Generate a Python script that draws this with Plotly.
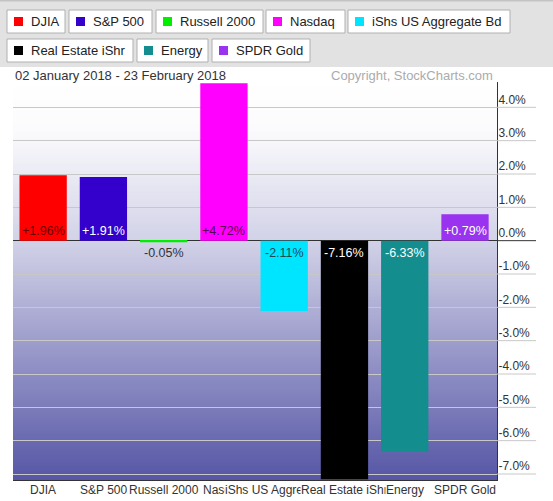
import plotly.graph_objects as go

# Данные: изменение в % за период
categories = ['DJIA', 'S&P 500', 'Russell 2000', 'Nasdaq', 'iShs US Aggregate Bd',
              'Real Estate iShr', 'Energy', 'SPDR Gold']
changes = [1.96, 1.91, -0.05, 4.72, -2.11, -7.16, -6.33, 0.79]
y_ticks = [-7, -6, -5, -4, -3, -2, -1, 0, 1, 2, 3, 4]

bar_colors = ['#ff0000', '#3300cc', '#00ee00', '#ff00ff', '#00e5ff',
              '#000000', '#138d8d', '#9933f0']
label_colors = ['#6a0000', '#ffffff', '#333333', '#5a005a', '#1d4b56',
                '#ffffff', '#ffffff', '#ffffff']

W, H = 553, 501
L, R, T, B = 13, 56, 82, 21
PW, PH = W - L - R, H - T - B


def px(x):
    return (x - L) / PW


def py(y):
    return (H - B - y) / PH


def mix(c1, c2, t):
    return tuple(round(a + (b - a) * t) for a, b in zip(c1, c2))


fig = go.Figure()
fig.add_trace(go.Bar(
    x=categories,
    y=changes,
    marker=dict(color=bar_colors, line=dict(width=0)),
    hoverinfo='x+y',
    showlegend=False,
))

shapes = []

# Градиентный фон области графика
stops = [(82, (255, 255, 255)), (130, (251, 251, 253)),
         (241, (210, 210, 232)), (480, (86, 86, 166))]
n_strips = 200
for i in range(n_strips):
    y0 = T + PH * i / n_strips
    y1 = T + PH * (i + 1) / n_strips
    yc = (y0 + y1) / 2
    for (a, ca), (b, cb) in zip(stops[:-1], stops[1:]):
        if a <= yc <= b:
            col = mix(ca, cb, (yc - a) / (b - a))
            break
    else:
        col = stops[-1][1]
    shapes.append(dict(type='rect', xref='paper', yref='paper', layer='below',
                       x0=0, x1=1, y0=py(y1) - 0.001, y1=py(y0) + 0.001,
                       fillcolor='rgb(%d,%d,%d)' % col, line=dict(width=0)))

# Продолжение линий сетки под подписями оси Y
for v in y_ticks:
    shapes.append(dict(type='line', xref='paper', yref='y', x0=1, x1=px(536),
                       y0=v, y1=v,
                       line=dict(color='#333333' if v == 0 else '#c8c8c8', width=1)))

# Серая панель с "кнопками" легенды
shapes.append(dict(type='rect', xref='paper', yref='paper', layer='below',
                   x0=px(0), x1=px(W), y0=py(67), y1=py(0),
                   fillcolor='#e2e2e2', line=dict(width=0)))
shapes.append(dict(type='line', xref='paper', yref='paper',
                   x0=px(0), x1=px(W), y0=py(0.5), y1=py(0.5),
                   line=dict(color='#c4c4c4', width=2)))

buttons = [(0, 7, 65), (1, 69, 152), (2, 156, 263), (3, 266, 345), (4, 348, 510),
           (5, 7, 133), (6, 137, 208), (7, 212, 310)]
rows = [(10, 33), (39, 62)]

annotations = []
for idx, x0, x1 in buttons:
    r0, r1 = rows[0] if idx < 5 else rows[1]
    yc = (r0 + r1) / 2
    shapes.append(dict(type='rect', xref='paper', yref='paper',
                       x0=px(x0), x1=px(x1), y0=py(r1), y1=py(r0),
                       fillcolor='#ffffff', line=dict(color='#b0b0b0', width=1)))
    shapes.append(dict(type='rect', xref='paper', yref='paper',
                       x0=px(x0 + 7), x1=px(x0 + 16), y0=py(yc + 4.5), y1=py(yc - 4.5),
                       fillcolor=bar_colors[idx], line=dict(width=0)))
    annotations.append(dict(xref='paper', yref='paper', x=px(x0 + 22), y=py(yc),
                            xanchor='left', yanchor='middle', showarrow=False,
                            text=categories[idx],
                            font=dict(size=13, color='#222222')))

# Подписи значений у нулевой линии
for cat, val, col in zip(categories, changes, label_colors):
    annotations.append(dict(x=cat, y=0, xref='x', yref='y', showarrow=False,
                            text=f'{val:+.2f}%',
                            yanchor='bottom' if val >= 0 else 'top',
                            yshift=1 if val >= 0 else -3,
                            font=dict(size=12.5, color=col)))

# Подписи категорий (каждая следующая перекрывает предыдущую)
for cat in categories:
    annotations.append(dict(x=cat, y=py(482), xref='x', yref='paper',
                            showarrow=False, text=cat, yanchor='top',
                            bgcolor='#ffffff', borderpad=0,
                            font=dict(size=12, color='#333333')))

annotations.append(dict(xref='paper', yref='paper', x=px(13), y=py(75),
                        xanchor='left', yanchor='middle', showarrow=False,
                        text='02 January 2018 - 23 February 2018',
                        font=dict(size=13, color='#333333')))
annotations.append(dict(xref='paper', yref='paper', x=px(495), y=py(75),
                        xanchor='right', yanchor='middle', showarrow=False,
                        text='Copyright, StockCharts.com',
                        font=dict(size=13, color='#ababab')))

fig.update_layout(
    width=W, height=H,
    margin=dict(l=L, r=R, t=T, b=B, pad=0),
    paper_bgcolor='#ffffff',
    plot_bgcolor='rgba(0,0,0,0)',
    font=dict(family='Arial, Liberation Sans, sans-serif', size=12, color='#333333'),
    bargap=0.215,
    showlegend=False,
    shapes=shapes,
    annotations=annotations,
)

fig.update_xaxes(
    type='category',
    showticklabels=False,
    showgrid=False,
    showline=True, linecolor='#333333', linewidth=1,
    ticks='',
    fixedrange=True,
)

fig.update_yaxes(
    side='right',
    range=[-7.18, 4.76],
    tickvals=y_ticks,
    ticktext=[f'{v:.1f}%' for v in y_ticks],
    ticks='',
    ticklabelshift=-8,
    ticklabelstandoff=-2,
    tickfont=dict(size=12, color='#333333'),
    showgrid=True, gridcolor='#c8c8c8', gridwidth=1,
    zeroline=True, zerolinecolor='#333333', zerolinewidth=1,
    showline=True, linecolor='#333333', linewidth=1,
    fixedrange=True,
)

# Убираем отступ страницы, чтобы график начинался в левом верхнем углу окна
fig.write_html('out.html', config={'displayModeBar': False},
               post_script="document.body.style.margin = '0';")
